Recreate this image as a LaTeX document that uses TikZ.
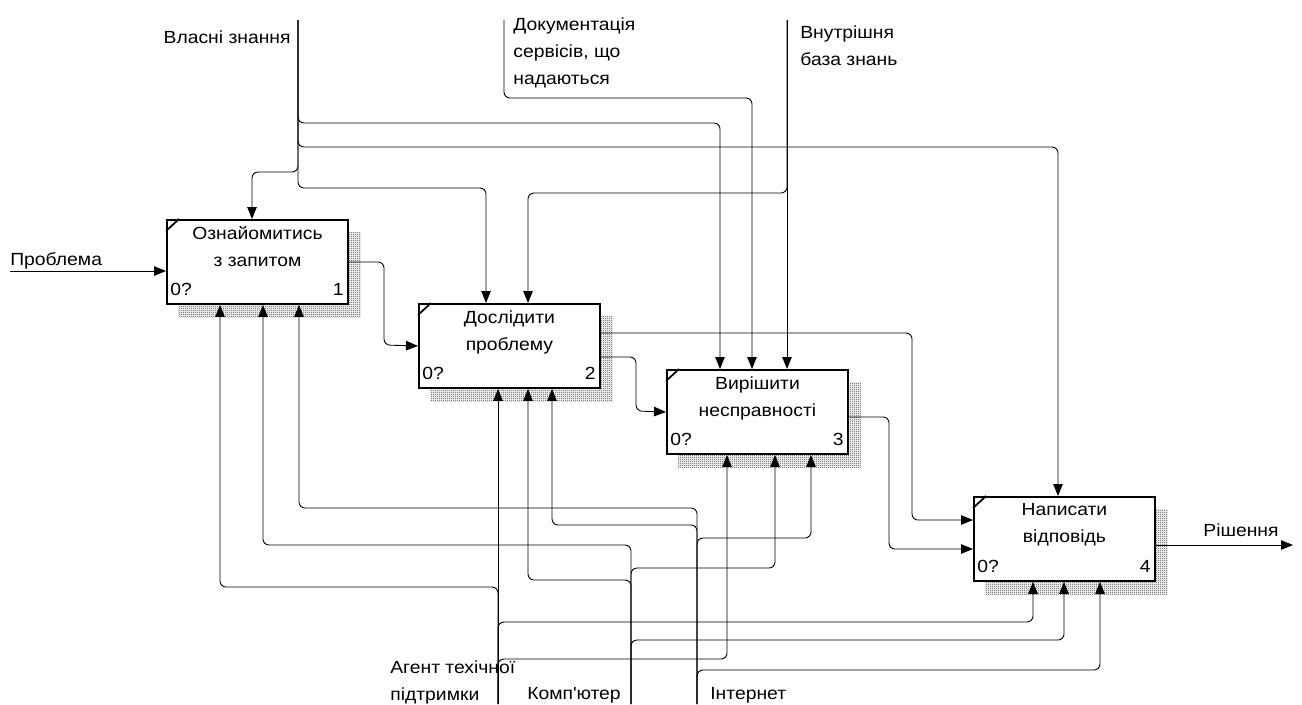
\documentclass[tikz,border=0pt]{standalone}
\usepackage{fontspec}
\setmainfont{Liberation Sans}[FakeStretch=1.1]
\usetikzlibrary{arrows.meta,positioning,patterns,backgrounds}

\pgfdeclarepatternformonly{finecheck}{\pgfqpoint{0pt}{0pt}}{\pgfqpoint{1.2pt}{1.2pt}}{\pgfqpoint{1.2pt}{1.2pt}}{%
    \pgfpathrectangle{\pgfqpoint{0pt}{0pt}}{\pgfqpoint{0.6pt}{0.6pt}}%
    \pgfpathrectangle{\pgfqpoint{0.6pt}{0.6pt}}{\pgfqpoint{0.6pt}{0.6pt}}%
    \pgfusepath{fill}}

\tikzset{
    act/.style={draw, line width=1.1pt, fill=white, minimum width=3.62cm, minimum height=1.68cm, inner sep=0pt, anchor=north west},
    acttext/.style={align=center, inner sep=0pt, anchor=north, font=\fontsize{10pt}{15.4pt}\selectfont},
    lbl/.style={inner sep=0pt, align=left, font=\fontsize{10pt}{15.4pt}\selectfont},
    arr/.style={line width=0.5pt, rounded corners=0.12cm, -{Triangle[length=0.24cm,width=0.19cm]}},
    link/.style={line width=1pt},
}

\begin{document}
\begin{tikzpicture}[x=0.02cm,y=-0.02cm]

    \useasboundingbox (0,0) rectangle (1302,704);

    % Activity boxes.
    \node[act] (b1) at (166,219) {};
    \node[act] (b2) at (418,303) {};
    \node[act] (b3) at (666,369) {};
    \node[act] (b4) at (973,496) {};

    \node[acttext] (b1-t) at ([shift={(0,7)}]b1.north) {Ознайомитись\\з запитом};
    \node[acttext] (b2-t) at ([shift={(0,7)}]b2.north) {Дослідити\\проблему};
    \node[acttext] (b3-t) at ([shift={(0,7)}]b3.north) {Вирішити\\несправності};
    \node[acttext] (b4-t) at ([shift={(0,7)}]b4.north) {Написати\\відповідь};

    \foreach \b/\n in {b1/1,b2/2,b3/3,b4/4} {
        \node[lbl, anchor=base west] (\b-zero) at ([shift={(4,-9)}]\b.south west) {0?};
        \node[lbl, anchor=base east] (\b-num) at ([shift={(-5,-9)}]\b.south east) {\n};
        \draw[link] ([shift={(0,12)}]\b.north west) -- ([shift={(13,0)}]\b.north west);
    }

    % Shadows behind the boxes.
    \begin{scope}[on background layer]
        \foreach \b in {b1,b2,b3,b4}
            \fill[pattern=finecheck, pattern color=black!75] ([shift={(12,13)}]\b.north west) rectangle ([shift={(12,13)}]\b.south east);
    \end{scope}

    % Border labels.
    \node[lbl, anchor=base east] (vlasni) at (291,43) {Власні знання};
    \node[lbl, anchor=north west] (docs) at (513,17) {Документація\\сервісів, що\\надаються};
    \node[lbl, anchor=north west] (vnutr) at (800,25) {Внутрішня\\база знань};
    \node[lbl, anchor=base west] (problema) at (10,265) {Проблема};
    \node[lbl, anchor=base west] (rishennya) at (1203,536) {Рішення};
    \node[lbl, anchor=north west] (agentlbl) at (390,660) {Агент техічної\\підтримки};
    \node[lbl, anchor=base west] (komp) at (527,699) {Комп\textquotesingle ютер};
    \node[lbl, anchor=base west] (internet) at (710,699) {Інтернет};

    \coordinate (vz) at (298,20);
    \coordinate (doc) at (504,20);
    \coordinate (kb) at (787,20);
    \coordinate (prob) at (10,271);
    \coordinate (sol) at (1293,545);
    \coordinate (agent) at (498,704);
    \coordinate (comp) at (631,704);
    \coordinate (inet) at (697,704);

    % Inputs and outputs.
    \draw[arr] (prob) -- (prob -| b1.west);
    \draw[arr] (b1.east) -| (384,345) -- (b2.west);
    \draw[arr] (b2.east |- 0,333) -| (912,520) -- (b4.west |- 0,520);
    \draw[arr] (b2.east |- 0,357) -| (636,411) -- (b3.west);
    \draw[arr] (b3.east |- 0,417) -| (889,549) -- (b4.west |- 0,549);
    \draw[arr] (b4.east |- 0,545) -- (sol);

    % Controls.
    \foreach \b/\x/\y in {b1/252/172, b2/486/188, b3/720/123, b4/1058/147}
        \draw[arr] (vz) |- (\x,\y) -- (\x,0 |- \b.north);
    \draw[arr] (doc) |- (752,98) -- (752,0 |- b3.north);
    \draw[arr] (kb) -- (787,0 |- b3.north);
    \draw[arr] (kb) |- (528,193) -- (528,0 |- b2.north);

    % Mechanisms.
    \draw[arr] (agent) -- (498,0 |- b2.south);
    \foreach \b/\x/\y in {b1/220/587, b3/727/659, b4/1033/622}
        \draw[arr] (agent) |- (\x,\y) -- (\x,0 |- \b.south);
    \foreach \b/\x/\y in {b1/263/545, b2/528/580, b3/775/568, b4/1064/640}
        \draw[arr] (comp) |- (\x,\y) -- (\x,0 |- \b.south);
    \foreach \b/\x/\y in {b1/299/508, b2/552/525, b3/811/538, b4/1100/670}
        \draw[arr] (inet) |- (\x,\y) -- (\x,0 |- \b.south);

\end{tikzpicture}
\end{document}
